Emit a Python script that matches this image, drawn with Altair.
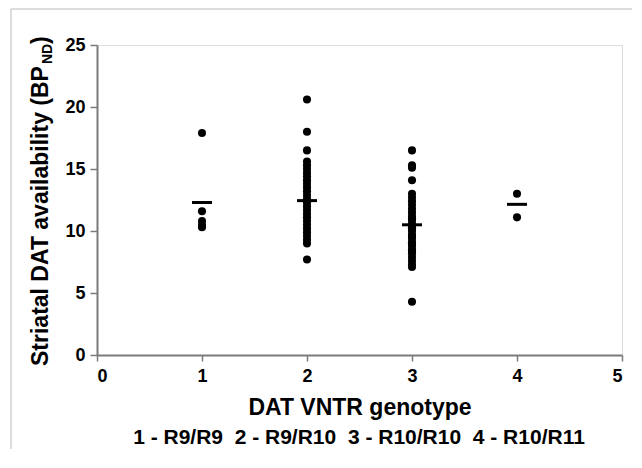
import altair as alt
import pandas as pd

# ---- data ----
genotype_1 = [17.9, 11.6, 10.8, 10.5, 10.3]
genotype_2 = [20.6, 18.0, 16.5, 15.6, 15.3, 15.0, 14.7, 14.4, 14.1, 13.8, 13.5,
              13.2, 12.9, 12.6, 12.3, 12.0, 11.7, 11.4, 11.1, 10.8, 10.5, 10.2,
              9.9, 9.6, 9.3, 9.0, 7.7]
genotype_3 = [16.5, 15.3, 15.1, 14.1, 13.0, 12.7, 12.4, 12.1, 11.8, 11.5, 11.2,
              10.9, 10.6, 10.3, 10.0, 9.7, 9.4, 9.1, 8.8, 8.5, 8.2, 7.9, 7.6,
              7.3, 7.1, 4.3, 11.0, 10.2, 9.6, 9.0, 8.4]
genotype_4 = [13.0, 11.1]
group_ids = [1, 2, 3, 4]
group_means = [12.3, 12.45, 10.5, 12.15]

x_ticks = [0, 1, 2, 3, 4, 5]
y_ticks = [0, 5, 10, 15, 20, 25]
x_title = "DAT VNTR genotype"
NB = "\u00a0"
x_subtitle = f"1 - R9/R9{NB}{NB}2 - R9/R10{NB}{NB}3 - R10/R10{NB}{NB}4 - R10/R11"
y_title_main = "Striatal DAT availability (BP"
y_title_sub = "ND"
y_title_end = ")"

FONT = "Liberation Sans"
AXIS_GRAY = "#7a7a7a"

rows = []
for g, vals in zip(group_ids, [genotype_1, genotype_2, genotype_3, genotype_4]):
    for v in vals:
        rows.append({"genotype": g, "bp": v})
points_df = pd.DataFrame(rows)
means_df = pd.DataFrame({"genotype": group_ids, "mean": group_means})
one = pd.DataFrame({"k": [0]})

x_scale = alt.Scale(domain=[0, 5], nice=False, zero=False)
y_scale = alt.Scale(domain=[0, 25], nice=False)

x_axis = alt.Axis(values=x_ticks, format="d", grid=False,
                  labelFont=FONT, labelFontSize=18, labelFontWeight="bold",
                  labelColor="black", labelPadding=6,
                  domainColor=AXIS_GRAY, domainWidth=2,
                  tickColor=AXIS_GRAY, tickWidth=1.5, tickSize=6,
                  title=x_title, titleFont=FONT, titleFontSize=23,
                  titleFontWeight="bold", titleColor="black", titlePadding=11)
y_axis = alt.Axis(values=y_ticks, format="d", grid=False,
                  labelFont=FONT, labelFontSize=18, labelFontWeight="bold",
                  labelColor="black", labelPadding=5,
                  domainColor=AXIS_GRAY, domainWidth=2,
                  tickColor=AXIS_GRAY, tickWidth=1.5, tickSize=7,
                  title=None)

points = alt.Chart(points_df).mark_circle(size=65, color="black", opacity=1).encode(
    x=alt.X("genotype:Q", scale=x_scale, axis=x_axis),
    y=alt.Y("bp:Q", scale=y_scale, axis=y_axis),
)

means = alt.Chart(means_df).mark_rule(color="black", strokeWidth=3,
                                      xOffset=-10, x2Offset=10).encode(
    x=alt.X("genotype:Q", scale=x_scale),
    x2=alt.X2("genotype:Q"),
    y=alt.Y("mean:Q", scale=y_scale),
)

frame_top = alt.Chart(one).mark_rule(color="#d0d0d0", strokeWidth=1.5).encode(
    x=alt.value(-86), x2=alt.value(535), y=alt.value(-36))
frame_left = alt.Chart(one).mark_rule(color="#d0d0d0", strokeWidth=1.5).encode(
    x=alt.value(-86), y=alt.value(-36), y2=alt.value(410))

ytitle_main = alt.Chart(one).mark_text(
    font=FONT, fontSize=23, fontWeight="bold", color="black",
    angle=270, align="left", baseline="alphabetic").encode(
    x=alt.value(-49), y=alt.value(321), text=alt.value(y_title_main))
ytitle_sub = alt.Chart(one).mark_text(
    font=FONT, fontSize=14, fontWeight="bold", color="black",
    angle=270, align="left", baseline="alphabetic").encode(
    x=alt.value(-45), y=alt.value(19), text=alt.value(y_title_sub))
ytitle_end = alt.Chart(one).mark_text(
    font=FONT, fontSize=23, fontWeight="bold", color="black",
    angle=270, align="left", baseline="alphabetic").encode(
    x=alt.value(-49), y=alt.value(-1), text=alt.value(y_title_end))

subtitle = alt.Chart(one).mark_text(
    font=FONT, fontSize=21, fontWeight="bold", color="black",
    align="center", baseline="middle").encode(
    x=alt.value(262), y=alt.value(393), text=alt.value(x_subtitle))

chart = alt.layer(
    frame_top, frame_left, points, means,
    ytitle_main, ytitle_sub, ytitle_end, subtitle
).properties(
    width=525, height=310,
    autosize=alt.AutoSizeParams(type="none"),
    padding={"left": 89, "top": 37, "right": 10, "bottom": 94},
).configure_view(stroke=None).configure(background="white")

chart.save("out.html", embed_options={"renderer": "svg", "actions": False})
